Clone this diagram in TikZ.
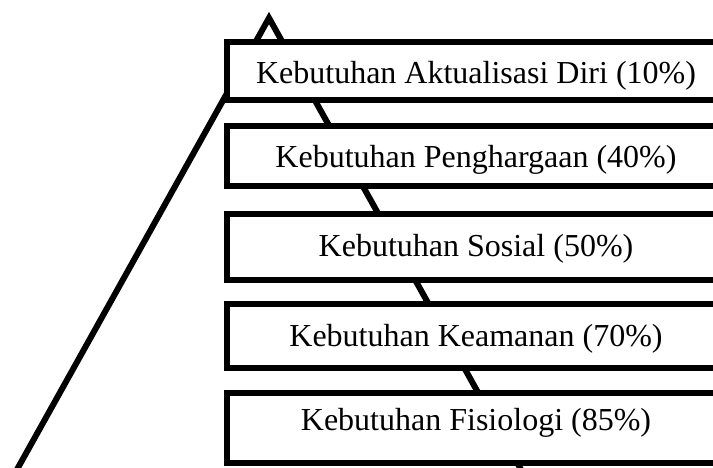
\documentclass[tikz,border=0pt]{standalone}
\usepackage{fontspec}
\setmainfont{Liberation Serif}
\begin{document}
\begin{tikzpicture}[x=1pt,y=-1pt,
  level/.style={draw, line width=6pt, fill=white, minimum width=498pt, inner sep=0pt},
  lbl/.style={anchor=base, inner sep=0pt, font=\fontsize{32}{35}\selectfont},
  pyr/.style={line width=6pt}]
\useasboundingbox (0,0) rectangle (713,468);
\clip (0,0) rectangle (713,468);
\coordinate (apex) at (269,18);
\coordinate (bl) at (0,500);
\coordinate (br) at (538,500);
\draw[pyr] (bl) -- (apex) -- (br);
\node[level, minimum height=58pt] (l1) at (476,71) {};
\node[level, minimum height=60pt] (l2) at (476,156) {};
\node[level, minimum height=66pt] (l3) at (476,247) {};
\node[level, minimum height=64pt] (l4) at (476,336) {};
\node[level, minimum height=70pt] (l5) at (476,427.5) {};
\node[lbl] (t1) at (476,84) {Kebutuhan Aktualisasi Diri (10\%)};
\node[lbl] (t2) at (476,168) {Kebutuhan Penghargaan (40\%)};
\node[lbl] (t3) at (476,256.5) {Kebutuhan Sosial (50\%)};
\node[lbl] (t4) at (476,346) {Kebutuhan Keamanan (70\%)};
\node[lbl] (t5) at (476,430) {Kebutuhan Fisiologi (85\%)};
\end{tikzpicture}
\end{document}
